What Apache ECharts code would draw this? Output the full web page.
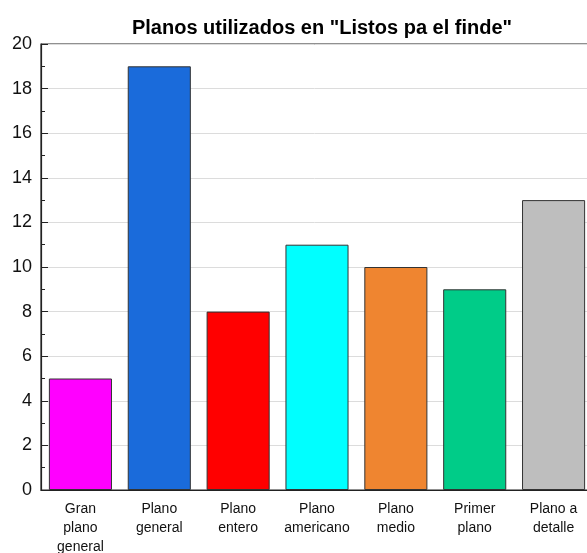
<!DOCTYPE html>
<html><head><meta charset="utf-8">
<script src="https://cdn.jsdelivr.net/npm/echarts@6/dist/echarts.min.js"></script>
<style>html,body{margin:0;padding:0;background:#fff;}#c{width:587px;height:553px;}</style>
</head><body><div id="c"></div>
<script>
var categories = ["Gran\nplano\ngeneral", "Plano\ngeneral", "Plano\nentero", "Plano\namericano", "Plano\nmedio", "Primer\nplano", "Plano a\ndetalle"];
var values = [5, 19, 8, 11, 10, 9, 13];
var colors = ["#FF00FF", "#1A6BDB", "#FF0000", "#00FFFF", "#EF8530", "#00CC88", "#BEBEBE"];
var yTicks = [0, 2, 4, 6, 8, 10, 12, 14, 16, 18, 20];

var chart = echarts.init(document.getElementById('c'));
chart.setOption({
  backgroundColor: '#fff',
  animation: false,
  title: {
    text: 'Planos utilizados en "Listos pa el finde"',
    left: 317, top: 13, textAlign: 'center',
    textStyle: {fontFamily: 'Liberation Sans', fontSize: 20, fontWeight: 'bold', color: '#000'}
  },
  grid: {left: 41, top: 44, width: 552, bottom: 63, show: true, borderColor: '#222', borderWidth: 1.2, backgroundColor: 'transparent', outerBoundsMode: 'none', containLabel: false},
  xAxis: [{
    type: 'category', data: categories,
    axisLine: {lineStyle: {color: '#222', width: 1.2}},
    axisTick: {alignWithLabel: true, inside: true, length: 8, lineStyle: {color: '#222'}},
    axisLabel: {fontFamily: 'Liberation Sans', fontSize: 14, color: '#111', lineHeight: 19, margin: 10, interval: 0}
  }, {
    type: 'category', data: categories, position: 'bottom',
    axisLine: {show: false},
    axisTick: {inside: true, length: 3, lineStyle: {color: '#222'}},
    axisLabel: {show: false}
  }],
  yAxis: {
    type: 'value', min: 0, max: 20, interval: 2,
    axisLine: {show: true, lineStyle: {color: '#222', width: 1.2}},
    axisTick: {show: true, inside: true, length: 7, lineStyle: {color: '#222'}},
    minorTick: {show: true, splitNumber: 2, length: 4, lineStyle: {color: '#222'}},
    splitLine: {show: true, lineStyle: {color: '#dcdcdc', width: 1}},
    axisLabel: {fontFamily: 'Liberation Sans', fontSize: 18, color: '#111', margin: 9,
      formatter: function (v) { return yTicks.indexOf(v) >= 0 ? String(v) : ''; }}
  },
  series: [{
    type: 'bar', xAxisIndex: 0, barWidth: '80%',
    data: values.map(function (v, i) {
      return {value: v, itemStyle: {color: colors[i], borderColor: '#333', borderWidth: 1}};
    })
  }]
});
</script></body></html>
